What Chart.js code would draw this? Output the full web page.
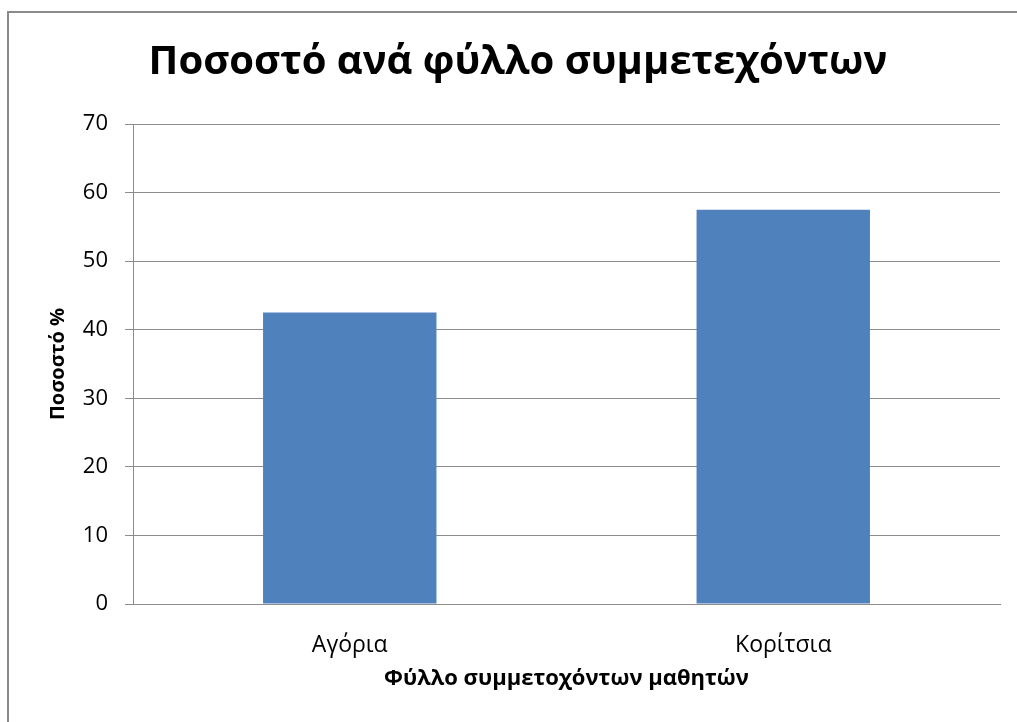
<!DOCTYPE html>
<html lang="el">
<head>
    <meta charset="UTF-8">
    <title>Ποσοστό ανά φύλλο συμμετεχόντων</title>
    <script src="https://cdn.jsdelivr.net/npm/chart.js"></script>
    <style>
        html, body {
            margin: 0;
            padding: 0;
            background: #fff;
            overflow: hidden;
        }
        .frame {
            position: absolute;
            left: 7px;
            top: 11px;
            width: 1100px;
            height: 800px;
            border: 2px solid #8a8a8a;
        }
        #chart {
            position: absolute;
            left: 0;
            top: 0;
        }
    </style>
</head>
<body>
    <div class="frame"></div>
    <canvas id="chart" width="1017" height="722"></canvas>

    <script>
        // Δεδομένα
        var categories = ['Αγόρια', 'Κορίτσια'];
        var percentages = [42.5, 57.5];
        var yTicks = [0, 10, 20, 30, 40, 50, 60, 70];

        var chartTitle = 'Ποσοστό ανά φύλλο συμμετεχόντων';
        var xTitle = 'Φύλλο συμμετοχόντων μαθητών';
        var yTitle = 'Ποσοστό %';

        var fontFamily = "'Open Sans', 'Noto Sans', sans-serif";
        var gridColor = '#8c8c8c';

        var ctx = document.getElementById('chart').getContext('2d');
        var chart = new Chart(ctx, {
            type: 'bar',
            data: {
                labels: categories,
                datasets: [{
                    label: yTitle,
                    data: percentages,
                    backgroundColor: '#4f81bd',
                    borderWidth: 0,
                    categoryPercentage: 1,
                    barPercentage: 0.4
                }]
            },
            options: {
                responsive: false,
                animation: false,
                layout: {
                    padding: { left: 36, right: 17, top: 0, bottom: 0 }
                },
                plugins: {
                    legend: { display: false },
                    tooltip: { enabled: false },
                    title: {
                        display: true,
                        text: chartTitle,
                        color: '#000',
                        font: { family: fontFamily, size: 40, weight: 'bold', lineHeight: 1.2 },
                        padding: { top: 39, bottom: 37 }
                    }
                },
                scales: {
                    x: {
                        grid: { display: false },
                        border: { display: true, color: gridColor, width: 1 },
                        ticks: {
                            color: '#000',
                            padding: 20,
                            font: { family: fontFamily, size: 23 }
                        },
                        title: {
                            display: true,
                            text: xTitle,
                            color: '#000',
                            font: { family: fontFamily, size: 22, weight: 'bold', lineHeight: 1.2 },
                            padding: { top: 0, bottom: 30 }
                        },
                        afterFit: function (scale) { scale.height = 118; }
                    },
                    y: {
                        min: 0,
                        max: 70,
                        afterBuildTicks: function (scale) {
                            scale.ticks = yTicks.map(function (v) { return { value: v }; });
                        },
                        grid: {
                            color: gridColor,
                            lineWidth: 1,
                            tickLength: 8,
                            drawTicks: true
                        },
                        border: { display: true, color: gridColor, width: 1 },
                        ticks: {
                            color: '#000',
                            padding: 17,
                            font: { family: fontFamily, size: 22 }
                        },
                        title: {
                            display: true,
                            text: yTitle,
                            color: '#000',
                            font: { family: fontFamily, size: 20, weight: 'bold', lineHeight: 1.2 },
                            padding: { top: 10, bottom: 0 }
                        },
                        afterFit: function (scale) { scale.width = 97; }
                    }
                }
            }
        });
    </script>
</body>
</html>
